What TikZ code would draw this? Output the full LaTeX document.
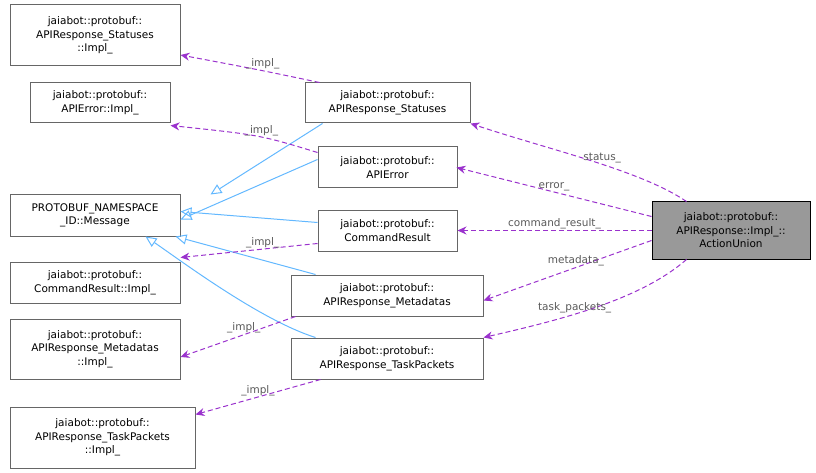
\documentclass[tikz,border=0pt]{standalone}
\usepackage{fontspec}
\setmainfont{DejaVu Sans}
\usetikzlibrary{arrows.meta}
\definecolor{pur}{HTML}{9A32CD}
\definecolor{blu}{HTML}{63B8FF}
\begin{document}
\begin{tikzpicture}[x=1pt,y=-1pt,line width=1pt,
  box/.style={draw=gray!80!black,fill=white,inner sep=0pt,align=center,font=\fontsize{10.5}{13.5}\selectfont},
  dep/.style={pur,dash pattern=on 5pt off 3pt,-{Stealth[length=9pt,width=8pt]}},
  inh/.style={blu,-{Triangle[open,length=11pt,width=10pt]}},
  lab/.style={font=\fontsize{10.5}{12}\selectfont,text=gray!70!black,inner sep=1pt}]
\useasboundingbox (0,0) rectangle (816,473);
\def\bx#1#2#3#4#5#6{\node[box,minimum width=#4-#2,minimum height=#5-#3] (#1) at ({(#2+#4)/2},{(#3+#5)/2}) {#6};}
\bx{A}{10}{5}{180}{66}{jaiabot::protobuf::\\APIResponse\_Statuses\\::Impl\_}
\bx{B}{30}{83}{170}{123}{jaiabot::protobuf::\\APIError::Impl\_}
\bx{C}{10}{195}{180}{236}{PROTOBUF\_NAMESPACE\\\_ID::Message}
\bx{D}{10}{262}{180}{303}{jaiabot::protobuf::\\CommandResult::Impl\_}
\bx{E}{10}{319}{180}{379}{jaiabot::protobuf::\\APIResponse\_Metadatas\\::Impl\_}
\bx{F}{10}{407}{195}{468}{jaiabot::protobuf::\\APIResponse\_TaskPackets\\::Impl\_}
\bx{G}{305}{83}{470}{123}{jaiabot::protobuf::\\APIResponse\_Statuses}
\bx{H}{318}{147}{457}{188}{jaiabot::protobuf::\\APIError}
\bx{I}{318}{210}{457}{251}{jaiabot::protobuf::\\CommandResult}
\bx{J}{291}{275}{483}{316}{jaiabot::protobuf::\\APIResponse\_Metadatas}
\bx{K}{291}{338}{483}{379}{jaiabot::protobuf::\\APIResponse\_TaskPackets}
\node[box,fill=gray!80,draw=black,minimum width=158,minimum height=57] (L) at (731,230.5) {jaiabot::protobuf::\\APIResponse::Impl\_::\\ActionUnion};
% inheritance
\draw[inh] (G.south west)++(18,0) -- ([xshift=30]C.north east);
\draw[inh] (H.west)++(0,-8) -- ([yshift=-4]C.east);
\draw[inh] (I.west)++(0,-8) -- ([yshift=4]C.east);
\draw[inh] (J.north west)++(25,0) -- ([xshift=-5]C.south east);
\draw[inh] (K.north west)++(25,0) .. controls (260,320) and (180,260) .. ([xshift=-35]C.south east);
% impl
\draw[dep] (G.north west)++(15,0) .. controls (260,70) .. (A.east|-0,55) node[lab,pos=0.45,above] {\_impl\_};
\draw[dep] (H.north west)++(0,6) .. controls (260,135) .. ([yshift=-2]B.south east) node[lab,pos=0.45,above] {\_impl\_};
\draw[dep] (I.south west)++(0,-8) -- ([yshift=4]D.north east) node[lab,pos=0.4,above] {\_impl\_};
\draw[dep] (J.south west)++(5,0) -- ([yshift=-8]E.east) node[lab,pos=0.45,above] {\_impl\_};
\draw[dep] (K.south west)++(30,0) -- ([yshift=-8]F.north east) node[lab,pos=0.5,above] {\_impl\_};
% members
\draw[dep] (L.north west)++(35,0) .. controls (640,170) and (550,150) .. (G.south east) node[lab,pos=0.45,above] {status\_};
\draw[dep] (L.west)++(0,-14) -- ([xshift=-1]H.east) node[lab,pos=0.5,above] {error\_};
\draw[dep] (L.west)++(0,0) -- (I.east) node[lab,pos=0.5,above] {command\_result\_};
\draw[dep] (L.west)++(0,10) -- ([yshift=-5]J.east) node[lab,pos=0.45,above] {metadata\_};
\draw[dep] (L.south west)++(35,0) .. controls (640,300) and (560,320) .. (K.north east) node[lab,pos=0.6,above] {task\_packets\_};
\end{tikzpicture}
\end{document}
